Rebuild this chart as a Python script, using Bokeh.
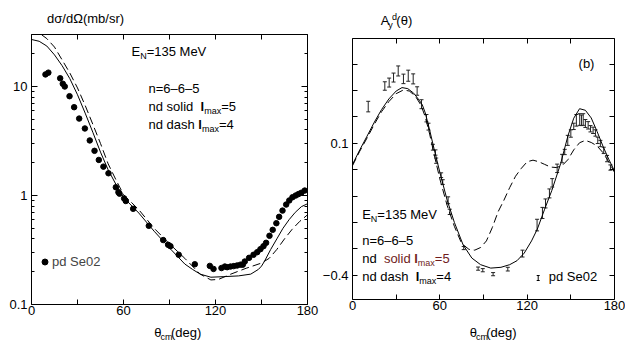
from bokeh.plotting import figure
from bokeh.models import (ColumnDataSource, FixedTicker, LinearAxis, LogAxis, Label,
                          Whisker, TeeHead, Legend, LegendItem)
from bokeh.layouts import row, column
from bokeh.embed import file_html
from bokeh.resources import INLINE

FONT = "Liberation Sans"
RED = "#701c1c"

# ---------------- data ----------------
x_ticks = [0, 60, 120, 180]
x_minor = [30, 90, 150]

# left panel: cross section, pd Se02 data
pd_x = [9.1, 11.0, 18.7, 20.4, 21.7, 24.8, 27.8, 31.1, 34.8, 38.0, 41.1, 43.9, 46.9, 50.2,
        55.0, 56.7, 57.4, 60.4, 61.5, 66.3, 76.5, 85.9, 89.1, 90.6, 96.0, 106.5, 116.3, 118.7,
        123.9, 126.1, 127.6, 129.8, 131.9, 134.1, 136.3, 137.8, 139.1, 141.9, 144.8, 147.2,
        149.3, 151.3, 153.0, 155.2, 157.3, 159.7, 161.5, 163.7, 166.1, 168.1, 170.2, 172.3,
        174.1, 176.0, 178.2]
pd_y = [12.9, 13.4, 11.9, 10.6, 10.0, 8.15, 6.46, 5.08, 4.12, 3.2, 2.57, 2.12, 1.84, 1.6,
        1.19, 1.07, 1.04, 0.94, 0.89, 0.755, 0.527, 0.39, 0.353, 0.343, 0.286, 0.234, 0.226, 0.212,
        0.216, 0.223, 0.22, 0.223, 0.225, 0.228, 0.232, 0.232, 0.248, 0.268, 0.286, 0.302,
        0.322, 0.343, 0.368, 0.427, 0.484, 0.557, 0.637, 0.727, 0.826, 0.90, 0.964, 1.0,
        1.03, 1.06, 1.11]

# nd solid lmax=5
cs5_x = [0, 5, 10, 15, 20, 25, 30, 35, 40, 45, 50, 55, 60, 70, 80, 90, 100, 105, 110, 117,
         125, 135, 143, 148, 150, 152, 156, 160, 164, 168, 172, 176, 180]
cs5_y = [27, 26, 23.5, 19.5, 15.5, 11.8, 8.4, 5.7, 3.8, 2.5, 1.72, 1.27, 0.96, 0.69, 0.47,
         0.33, 0.235, 0.21, 0.19, 0.178, 0.18, 0.183, 0.19, 0.21, 0.225, 0.25, 0.32, 0.40,
         0.50, 0.60, 0.70, 0.79, 0.84]
# nd dash lmax=4
cs4_x = [0, 5, 10, 15, 20, 25, 30, 35, 40, 45, 50, 55, 60, 70, 80, 90, 100, 110, 117, 122,
         130, 140, 150, 155, 160, 165, 170, 175, 180]
cs4_y = [34, 31, 27.5, 23, 17.5, 13.3, 9.7, 6.7, 4.5, 3.0, 1.95, 1.4, 1.02, 0.74, 0.50,
         0.36, 0.265, 0.19, 0.168, 0.17, 0.19, 0.215, 0.24, 0.265, 0.32, 0.40, 0.49, 0.58, 0.665]

# right panel: Ay^d, pd Se02 data
ay_x = [10.8, 22.2, 25.2, 28.2, 31.4, 35.0, 38.3, 41.7, 44.4, 47.4, 50.8, 52.2, 55.2, 57.0,
        57.5, 60.9, 62.0, 65.7, 66.8, 76.4, 86.3, 89.5, 96.6, 106.7, 116.8, 126.8, 130.5,
        132.6, 135.3, 137.2, 140.6, 144.0, 145.8, 147.9, 150.0, 152.0, 153.8, 156.1, 157.3,
        158.5, 160.0, 161.9, 163.5, 165.3, 166.9, 168.5, 170.3, 172.6, 174.9, 177.2]
ay_y = [0.239, 0.317, 0.33, 0.349, 0.374, 0.344, 0.356, 0.344, 0.298, 0.248, 0.195, 0.163,
        0.085, 0.065, 0.034, -0.021, -0.047, -0.116, -0.16, -0.297, -0.375, -0.381, -0.396,
        -0.377, -0.318, -0.21, -0.164, -0.128, -0.09, -0.05, 0.005, 0.042, 0.067, 0.111,
        0.137, 0.164, 0.187, 0.19, 0.187, 0.19, 0.175, 0.168, 0.155, 0.149, 0.139, 0.111,
        0.099, 0.073, 0.042, 0.008]
ay_err = [0.02, 0.016, 0.017, 0.017, 0.019, 0.018, 0.021, 0.019, 0.016, 0.017, 0.014, 0.013,
          0.011, 0.01, 0.01, 0.009, 0.009, 0.013, 0.01, 0.006, 0.006, 0.006, 0.006, 0.007,
          0.013, 0.022, 0.021, 0.017, 0.017, 0.016, 0.016, 0.016, 0.01, 0.019, 0.014, 0.012,
          0.022, 0.022, 0.02, 0.022, 0.015, 0.014, 0.012, 0.012, 0.012, 0.012, 0.012, 0.012,
          0.012, 0.01]

ay5_x = [0, 5, 10, 15, 20, 25, 30, 34, 38, 42, 46, 48, 50, 53, 56, 60, 65, 70, 76, 82, 88,
         95, 102, 108, 113, 118, 123, 127, 132, 137, 143, 148, 152, 156, 160, 164, 168, 172,
         176, 180]
ay5_y = [0.02, 0.075, 0.127, 0.18, 0.228, 0.268, 0.298, 0.311, 0.307, 0.29, 0.262, 0.245,
         0.215, 0.15, 0.08, -0.01, -0.115, -0.2, -0.285, -0.335, -0.36, -0.373, -0.37, -0.36,
         -0.345, -0.316, -0.27, -0.225, -0.15, -0.078, 0.023, 0.128, 0.195, 0.231, 0.225,
         0.196, 0.145, 0.09, 0.04, -0.005]
ay4_x = [0, 5, 10, 15, 20, 25, 30, 35, 39, 43, 47, 50, 53, 56, 60, 65, 70, 75, 80, 84, 88,
         92, 96, 100, 104, 108, 112, 116, 120, 124, 128, 132, 136, 140, 144, 148, 152, 156,
         160, 164, 168, 172, 176, 180]
ay4_y = [0.015, 0.07, 0.12, 0.172, 0.22, 0.258, 0.288, 0.302, 0.298, 0.28, 0.245, 0.2,
         0.135, 0.06, -0.035, -0.135, -0.215, -0.28, -0.302, -0.305, -0.295, -0.27, -0.22,
         -0.16, -0.116, -0.068, -0.025, 0.005, 0.03, 0.036, 0.03, 0.02, 0.01, 0.008, 0.015,
         0.038, 0.075, 0.102, 0.111, 0.103, 0.09, 0.065, 0.03, -0.01]

# ---------------- helpers ----------------
WID = {' ': 278, '(': 333, ')': 333, '/': 278, '=': 584, '.': 278, 'A': 667, 'E': 667,
       'M': 833, 'N': 722, 'S': 667, 'V': 667, 'c': 500, 'i': 222, 'l': 222, 'm': 833,
       'r': 333, 's': 500, 'x': 500, 'y': 500, 'σ': 571, 'Ω': 768, 'θ': 556}
SIZES = {"n": 13, "sub": 9, "sup": 9}


def tw(s, size, bold=False):
    tot = 0
    for ch in s:
        w = WID.get(ch, 556)
        if bold and ch == 'l':
            w = 278
        tot += w
    return tot * size / 1000.0


def label(p, x, y, text, size=13, color="black", bold=False, align="left"):
    # y: baseline, screen units from frame bottom (upwards)
    p.add_layout(Label(x=x, y=y - 0.21 * size, x_units="screen", y_units="screen", text=text,
                       text_font=FONT, text_font_size=f"{size}px", text_color=color,
                       text_font_style="bold" if bold else "normal",
                       text_baseline="bottom", text_align=align))


def rich(p, x, y, parts):
    for part in parts:
        text, kind = part[0], part[1]
        color = part[2] if len(part) > 2 else "black"
        bold = part[3] if len(part) > 3 else False
        size = SIZES[kind]
        dy = {"n": 0, "sub": -3, "sup": 5}[kind]
        label(p, x, y + dy, text, size=size, color=color, bold=bold)
        x += tw(text, size, bold)


def srich(s, x, base, parts):
    # strip figures use pixel data coordinates with y pointing down; base = baseline
    for part in parts:
        text, kind = part[0], part[1]
        size = SIZES[kind]
        dy = {"n": 0, "sub": 3, "sup": -5}[kind]
        s.add_layout(Label(x=x, y=base + dy + 0.21 * size, text=text, text_font=FONT,
                           text_font_size=f"{size}px", text_color="black",
                           text_baseline="bottom", text_align="left"))
        x += tw(text, size)


def strip(width, height):
    s = figure(width=width, height=height, x_range=(0, width), y_range=(height, 0),
               output_backend="svg", toolbar_location=None, title=None,
               x_axis_location=None, y_axis_location=None, min_border=0)
    s.outline_line_color = None
    s.grid.visible = False
    return s


def style_axis(ax, ticker, labels=True, major_in=5, minor_in=5, standoff=4, overrides=None):
    ax.ticker = ticker
    ax.axis_line_color = None
    ax.major_tick_in = major_in
    ax.major_tick_out = 0
    ax.minor_tick_in = minor_in
    ax.minor_tick_out = 0
    ax.major_tick_line_color = "black"
    ax.minor_tick_line_color = "black"
    ax.major_label_text_font = FONT
    if labels:
        ax.major_label_text_color = "black"
        ax.major_label_text_font_size = "13px"
        ax.major_label_standoff = standoff
    else:
        ax.major_label_text_color = None
        ax.major_label_text_font_size = "1px"
        ax.major_label_standoff = 0
    if overrides:
        ax.major_label_overrides = overrides


# both panels get the same top (7) and bottom (20) borders; strips take up the difference
# ---------------- left panel ----------------
p1 = figure(frame_width=276, frame_height=270, y_axis_type="log", x_range=(0, 180),
            y_range=(0.1, 30), output_backend="svg", toolbar_location=None, title=None,
            min_border_left=31, min_border_right=12, min_border_top=7, min_border_bottom=20)
p1.outline_line_color = "black"
p1.xgrid.visible = False
p1.ygrid.visible = False

yt_major = [0.1, 1, 10]
yt_minor = [0.2, 0.3, 0.4, 0.5, 0.6, 0.7, 0.8, 0.9, 2, 3, 4, 5, 6, 7, 8, 9, 20, 30]

style_axis(p1.xaxis[0], FixedTicker(ticks=x_ticks, minor_ticks=x_minor), standoff=1)
style_axis(p1.yaxis[0], FixedTicker(ticks=yt_major, minor_ticks=yt_minor),
           major_in=6, minor_in=3, standoff=4,
           overrides={0.1: "0.1", 1: "1", 10: "10"})
ax_top = LinearAxis()
style_axis(ax_top, FixedTicker(ticks=x_ticks, minor_ticks=x_minor), labels=False)
p1.add_layout(ax_top, "above")
ax_right = LogAxis()
style_axis(ax_right, FixedTicker(ticks=yt_major, minor_ticks=yt_minor), labels=False,
           major_in=6, minor_in=3)
p1.add_layout(ax_right, "right")

p1.line(cs5_x, cs5_y, line_color="black", line_width=1)
p1.line(cs4_x, cs4_y, line_color="black", line_width=1, line_dash="8 4")
r_pts = p1.scatter(pd_x, pd_y, size=5.5, fill_color="black", line_color="black")

leg1 = Legend(items=[LegendItem(label="pd Se02", renderers=[r_pts])], location=(6, 35),
              glyph_width=15, glyph_height=15, label_height=15, label_standoff=0,
              padding=0, margin=0, spacing=0, border_line_color=None,
              background_fill_alpha=0, label_text_font=FONT, label_text_font_size="13px")
p1.add_layout(leg1)

rich(p1, 100, 248, [("E", "n"), ("N", "sub"), ("=135 MeV", "n")])
rich(p1, 117, 211.5, [("n=6–6–5", "n")])
rich(p1, 117, 193.5, [("nd  solid ", "n"), ("l", "n", "black", True), ("max", "sub"), ("=5", "n")])
rich(p1, 117, 175, [("nd dash ", "n"), ("l", "n", "black", True), ("max", "sub"), ("=4", "n")])

# ---------------- right panel ----------------
p2 = figure(frame_width=262, frame_height=261, x_range=(0, 180), y_range=(-0.492, 0.497),
            output_backend="svg", toolbar_location=None, title=None,
            min_border_left=33, min_border_right=11, min_border_top=7, min_border_bottom=20)
p2.outline_line_color = "black"
p2.xgrid.visible = False
p2.ygrid.visible = False

ay_major = [-0.4, 0.1]
ay_minor = [-0.3, -0.2, -0.1, 0.0, 0.2, 0.3, 0.4]
style_axis(p2.xaxis[0], FixedTicker(ticks=x_ticks, minor_ticks=x_minor), standoff=1)
style_axis(p2.yaxis[0], FixedTicker(ticks=ay_major, minor_ticks=ay_minor), standoff=4,
           overrides={-0.4: "−0.4", 0.1: "0.1"})
ax_top2 = LinearAxis()
style_axis(ax_top2, FixedTicker(ticks=x_ticks, minor_ticks=x_minor), labels=False)
p2.add_layout(ax_top2, "above")
ax_right2 = LinearAxis()
style_axis(ax_right2, FixedTicker(ticks=ay_major, minor_ticks=ay_minor), labels=False)
p2.add_layout(ax_right2, "right")

p2.line(ay5_x, ay5_y, line_color="black", line_width=1)
p2.line(ay4_x, ay4_y, line_color="black", line_width=1, line_dash="8 4")

src = ColumnDataSource(data=dict(
    x=ay_x,
    lower=[v - e for v, e in zip(ay_y, ay_err)],
    upper=[v + e for v, e in zip(ay_y, ay_err)],
))
p2.add_layout(Whisker(source=src, base="x", lower="lower", upper="upper", dimension="height",
                      line_color="#222222", line_width=1,
                      upper_head=TeeHead(size=4, line_color="#222222", line_width=1),
                      lower_head=TeeHead(size=4, line_color="#222222", line_width=1)))

# legend key for the right panel (screen units)
key_src = ColumnDataSource(data=dict(b=[185.7], lo=[19], up=[24]))
p2.add_layout(Whisker(source=key_src, base="b", lower="lo", upper="up", dimension="height",
                      base_units="screen", lower_units="screen", upper_units="screen",
                      line_color="black", line_width=1,
                      upper_head=TeeHead(size=3, line_color="black"),
                      lower_head=TeeHead(size=3, line_color="black")))
rich(p2, 196.3, 18, [("pd Se02", "n")])

label(p2, 234, 231, "(b)", align="center")
rich(p2, 9.7, 80.7, [("E", "n"), ("N", "sub"), ("=135 MeV", "n")])
rich(p2, 9.7, 54, [("n=6–6–5", "n")])
rich(p2, 9.7, 36.3, [("nd  ", "n"), ("solid ", "n", RED), ("l", "n", RED, True),
                     ("max", "sub", RED), ("=5", "n", RED)])
rich(p2, 9.7, 18, [("nd  dash ", "n"), ("l", "n", "black", True), ("max", "sub"), ("=4", "n")])

# ---------------- axis titles (strips above and below each panel) ----------------
topL = strip(319, 27)
srich(topL, 18, 23, [("dσ/dΩ(mb/sr)", "n")])
botL = strip(319, 19)
srich(botL, 142, 13, [("θ", "n"), ("cm", "sub"), ("(deg)", "n")])

topR = strip(306, 31)
srich(topR, 352 - 319, 25, [("A", "n"), ("y", "sub"), ("d", "sup"), ("(θ)", "n")])
botR = strip(306, 24)
srich(botR, 456 - 319, 18, [("θ", "n"), ("cm", "sub"), ("(deg)", "n")])

layout = row(column(topL, p1, botL), column(topR, p2, botR))
open("out.html", "w").write(file_html(layout, INLINE))
